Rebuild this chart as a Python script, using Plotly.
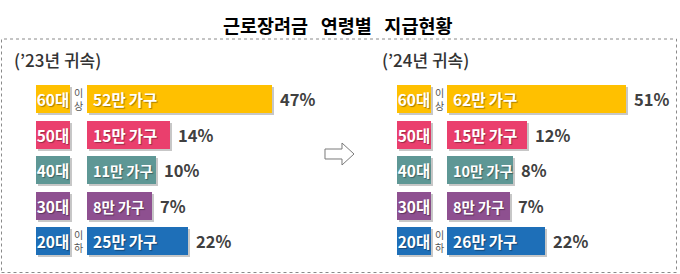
import plotly.graph_objects as go

# ---------------- data ----------------
title_text = "근로장려금\u00a0\u00a0\u00a0연령별\u00a0\u00a0\u00a0지급현황"
ages = ["60대", "50대", "40대", "30대", "20대"]
age_notes = ["이<br>상", "", "", "", "이<br>하"]
colors = ["#FFC000", "#EA3F6D", "#5E9795", "#8E5090", "#1E6FB8"]

year_23 = "(’23년 귀속)"
households_23 = [52, 15, 11, 8, 25]          # 만 가구
share_23 = [47, 14, 10, 7, 22]               # %
bar_len_23 = [185, 83, 69, 65, 101]          # displayed bar length (infographic units)

year_24 = "(’24년 귀속)"
households_24 = [62, 15, 10, 8, 26]
share_24 = [51, 12, 8, 7, 22]
bar_len_24 = [179, 80, 66, 63, 98]

# ---------------- layout constants ----------------
W, H = 680, 274
ROW_TOP, ROW_STEP = 99, 35.5
BAR_W = 28 / ROW_STEP
SH = 2 / ROW_STEP
FONT = "Noto Sans CJK KR"
THIN = "\u2009"

panels = [
    dict(year=year_23, hh=households_23, share=share_23, blen=bar_len_23,
         lab_x0=36, bar_x0=87, note_x=78.5, title_x=12),
    dict(year=year_24, hh=households_24, share=share_24, blen=bar_len_24,
         lab_x0=397, bar_x0=447, note_x=439.5, title_x=380),
]
LAB_W = 34

fig = go.Figure()
annotations = []

for p in panels:
    # shadows
    fig.add_trace(go.Bar(
        orientation="h", y=ages, x=[LAB_W] * len(ages), base=p["lab_x0"] + 2,
        width=BAR_W, offset=-BAR_W / 2 + SH,
        marker=dict(color="rgba(0,0,0,0.22)", line=dict(width=0)),
        hoverinfo="skip", showlegend=False))
    fig.add_trace(go.Bar(
        orientation="h", y=ages, x=p["blen"], base=p["bar_x0"] + 2,
        width=BAR_W, offset=-BAR_W / 2 + SH,
        marker=dict(color="rgba(0,0,0,0.22)", line=dict(width=0)),
        hoverinfo="skip", showlegend=False))
    # age label boxes
    fig.add_trace(go.Bar(
        orientation="h", y=ages, x=[LAB_W] * len(ages), base=p["lab_x0"],
        width=BAR_W, offset=-BAR_W / 2,
        marker=dict(color=colors, line=dict(width=0)),
        text=ages, textposition="inside", insidetextanchor="middle",
        constraintext="none",
        textfont=dict(family=FONT, size=15.5, color="white", weight=700,
                      shadow="1px 1px 1px rgba(0,0,0,0.35)"),
        hoverinfo="skip", showlegend=False))
    # value bars (slightly smaller text on the short bars so it stays inside)
    sizes = [15.5 if L > 75 else 14.5 for L in p["blen"]]
    fig.add_trace(go.Bar(
        orientation="h", y=ages, x=p["blen"], base=p["bar_x0"],
        width=BAR_W, offset=-BAR_W / 2,
        marker=dict(color=colors, line=dict(width=0)),
        text=[f"{THIN}{v}만{THIN}가구" for v in p["hh"]],
        textposition="inside", insidetextanchor="start",
        constraintext="none",
        textfont=dict(family=FONT, size=sizes, color="white", weight=700,
                      shadow="1px 1px 1px rgba(0,0,0,0.35)"),
        hoverinfo="skip", showlegend=False))
    # percent labels
    for a, s, L in zip(ages, p["share"], p["blen"]):
        annotations.append(dict(
            x=p["bar_x0"] + L, y=a, xref="x", yref="y", text=f"{s}%",
            showarrow=False, xanchor="left", xshift=6,
            font=dict(family=FONT, size=16.5, color="#404040", weight=700)))
    # 이상 / 이하 notes
    for a, n in zip(ages, age_notes):
        if n:
            annotations.append(dict(
                x=p["note_x"], y=a, xref="x", yref="y", text=n,
                showarrow=False, xanchor="center", yanchor="middle",
                borderpad=0,
                font=dict(family=FONT, size=10, color="#555555")))
    # panel subtitle
    annotations.append(dict(
        x=p["title_x"] / W, y=1 - 60 / H, xref="paper", yref="paper",
        text=p["year"], showarrow=False, xanchor="left", yanchor="middle",
        font=dict(family=FONT, size=17, color="#333333", weight=500)))

# main title
annotations.append(dict(
    x=337 / W, y=1 - 25 / H, xref="paper", yref="paper", text=title_text,
    showarrow=False, xanchor="center", yanchor="middle",
    font=dict(family=FONT, size=18.5, color="#000000", weight=700)))

def px(x, y):
    return f"{x / W:.5f},{1 - y / H:.5f}"

arrow = ("M " + px(325, 149) + " L " + px(342, 149) + " L " + px(342, 143)
         + " L " + px(354, 154) + " L " + px(342, 165) + " L " + px(342, 159)
         + " L " + px(325, 159) + " Z")

shapes = [
    dict(type="rect", xref="paper", yref="paper",
         x0=1.5 / W, x1=676.5 / W, y0=1 - 272.5 / H, y1=1 - 39 / H,
         line=dict(color="#8a8a8a", width=1, dash="dot"), fillcolor="rgba(0,0,0,0)"),
    dict(type="path", xref="paper", yref="paper", path=arrow,
         line=dict(color="#7a7a7a", width=1), fillcolor="white"),
]

fig.update_layout(
    width=W, height=H, margin=dict(l=0, r=0, t=0, b=0),
    paper_bgcolor="white", plot_bgcolor="white",
    barmode="overlay", bargap=0,
    xaxis=dict(range=[0, W], domain=[0, 1], visible=False, fixedrange=True),
    yaxis=dict(type="category", categoryorder="array", categoryarray=ages,
               range=[(H - ROW_TOP) / ROW_STEP, -ROW_TOP / ROW_STEP],
               domain=[0, 1], visible=False, fixedrange=True),
    annotations=annotations, shapes=shapes,
    font=dict(family=FONT),
)

fig.write_html("out.html")
